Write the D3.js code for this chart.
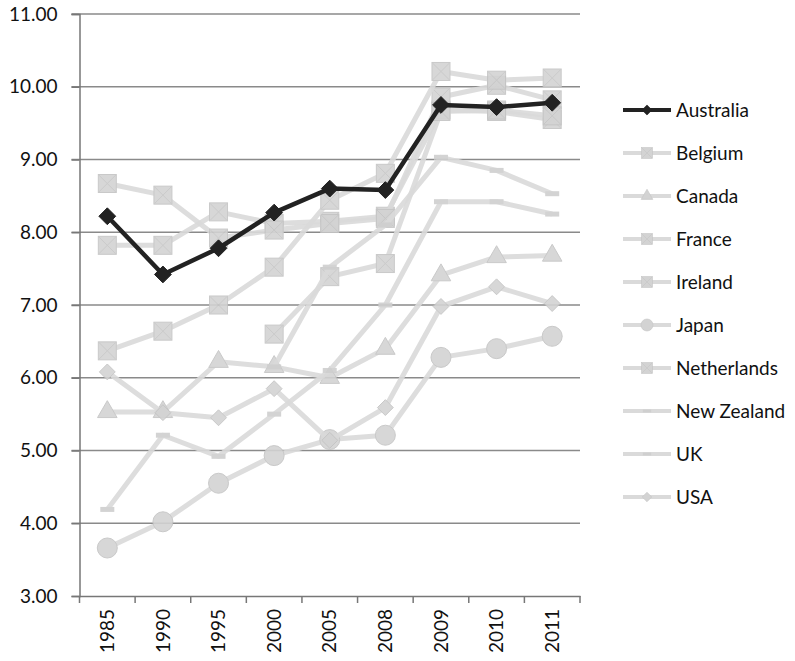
<!DOCTYPE html>
<html>
<head>
<meta charset="utf-8">
<script src="https://cdn.jsdelivr.net/npm/d3@7"></script>
<style>
  body { margin: 0; background: #fff; }
  text { font-family: Lato, "Open Sans", sans-serif; fill: #111; }
</style>
</head>
<body>
<div id="chart"></div>
<script>
// years on the x axis
const years = ["1985", "1990", "1995", "2000", "2005", "2008", "2009", "2010", "2011"];
const yTicks = [3, 4, 5, 6, 7, 8, 9, 10, 11];

// values per country
const australia   = [8.22, 7.42, 7.78, 8.27, 8.60, 8.58, 9.75, 9.72, 9.78];
const belgium     = [7.82, 7.82, 8.28, 8.12, 8.15, 8.22, 9.68, 9.66, 9.55];
const canada      = [5.53, 5.53, 6.22, 6.15, 6.00, 6.40, 7.41, 7.66, 7.68];
const france      = [8.67, 8.51, 7.92, 8.03, 8.12, 8.19, 9.86, 10.02, 9.82];
const ireland     = [6.37, 6.64, 7.00, 7.52, 8.44, 8.81, 10.21, 10.09, 10.12];
const japan       = [3.66, 4.02, 4.55, 4.93, 5.15, 5.21, 6.28, 6.40, 6.57];
const netherlands = [null, null, null, 6.60, 7.39, 7.57, 9.66, 9.68, 9.60];
const newZealand  = [null, null, null, 6.15, 7.52, 8.10, 9.03, 8.85, 8.53];
const uk          = [4.19, 5.21, 4.92, 5.50, 6.10, 7.00, 8.42, 8.42, 8.25];
const usa         = [6.08, 5.52, 5.45, 5.85, 5.14, 5.59, 6.98, 7.25, 7.02];

const series = [
  { name: "Australia", values: australia, marker: "diamond", dark: true },
  { name: "Belgium", values: belgium, marker: "square" },
  { name: "Canada", values: canada, marker: "triangle" },
  { name: "France", values: france, marker: "square" },
  { name: "Ireland", values: ireland, marker: "square" },
  { name: "Japan", values: japan, marker: "circle" },
  { name: "Netherlands", values: netherlands, marker: "square" },
  { name: "New Zealand", values: newZealand, marker: "dash" },
  { name: "UK", values: uk, marker: "dash" },
  { name: "USA", values: usa, marker: "diamond" }
];

const width = 795, height = 661;
const plotLeft = 79.5, plotRight = 580, plotTop = 14, plotBottom = 596;

const svg = d3.select("#chart").append("svg")
  .attr("width", width)
  .attr("height", height);

const x = d3.scaleBand().domain(years).range([plotLeft, plotRight]);
const y = d3.scaleLinear().domain([3, 11]).range([plotBottom, plotTop]);

// gridlines
svg.append("g")
  .selectAll("line")
  .data(yTicks.filter(d => d > 3))
  .enter().append("line")
  .attr("x1", plotLeft - 8).attr("x2", plotRight)
  .attr("y1", d => y(d)).attr("y2", d => y(d))
  .attr("stroke", "#8a8a8a").attr("stroke-width", 1.5);

// y axis
const yAxis = svg.append("g")
  .attr("transform", "translate(" + plotLeft + ",0)")
  .call(d3.axisLeft(y).tickValues(yTicks).tickFormat(d3.format(".2f")).tickSize(8).tickPadding(14));
yAxis.selectAll("text").style("font-size", "19px");

// x axis
const xAxis = svg.append("g")
  .attr("transform", "translate(0," + plotBottom + ")")
  .call(d3.axisBottom(x).tickSize(0).tickPadding(0));
xAxis.selectAll("text")
  .style("font-size", "19px")
  .attr("transform", "rotate(-90)")
  .attr("text-anchor", "end")
  .attr("dy", "0.35em")
  .attr("x", -13)
  .attr("y", 0);
// ticks between categories
xAxis.selectAll(".sep")
  .data(years.concat(["end"]))
  .enter().append("line")
  .attr("x1", (d, i) => plotLeft + i * x.bandwidth())
  .attr("x2", (d, i) => plotLeft + i * x.bandwidth())
  .attr("y1", 0).attr("y2", 7)
  .attr("stroke", "#777").attr("stroke-width", 1.5);
svg.selectAll(".domain").attr("stroke", "#777").attr("stroke-width", 1.5);
yAxis.selectAll(".tick line").attr("stroke", "#777").attr("stroke-width", 1.5);

const lightLine = "#dadada";
const lightFill = "#d3d3d3";
const lightEdge = "#c4c4c4";

function drawMarker(g, type, dark) {
  const fill = dark ? "#222" : lightFill;
  const edge = dark ? "#222" : lightEdge;
  if (type === "diamond") {
    g.append("path").attr("d", d3.symbol(d3.symbolDiamond2, dark ? 180 : 160)())
      .attr("fill", fill).attr("stroke", edge).attr("stroke-width", 1);
  } else if (type === "square") {
    g.append("rect").attr("x", -9).attr("y", -9).attr("width", 18).attr("height", 18)
      .attr("fill", fill).attr("stroke", edge).attr("stroke-width", 1);
    g.append("path").attr("d", "M-8.5,-8.5L8.5,8.5M8.5,-8.5L-8.5,8.5")
      .attr("stroke", "#c6c6c6").attr("stroke-width", 1);
  } else if (type === "triangle") {
    g.append("path").attr("d", d3.symbol(d3.symbolTriangle, 165)())
      .attr("fill", fill).attr("stroke", edge).attr("stroke-width", 1);
  } else if (type === "circle") {
    g.append("circle").attr("r", 10)
      .attr("fill", fill).attr("stroke", edge).attr("stroke-width", 1);
  } else if (type === "dash") {
    g.append("rect").attr("x", -7).attr("y", -2.5).attr("width", 14).attr("height", 5)
      .attr("fill", "#cfcfcf");
  }
}

const line = d3.line()
  .defined(d => d != null)
  .x((d, i) => x(years[i]) + x.bandwidth() / 2)
  .y(d => y(d));

// grey series first, Australia drawn on top
const drawOrder = series.slice(1).concat([series[0]]);
drawOrder.forEach(s => {
  const g = svg.append("g").attr("opacity", s.dark ? 1 : 0.9);
  g.append("path")
    .datum(s.values)
    .attr("d", line)
    .attr("fill", "none")
    .attr("stroke", s.dark ? "#222" : lightLine)
    .attr("stroke-width", s.dark ? 4.5 : 5)
    .attr("stroke-linejoin", "round");
  s.values.forEach((v, i) => {
    if (v == null) return;
    const m = g.append("g")
      .attr("transform", "translate(" + (x(years[i]) + x.bandwidth() / 2) + "," + y(v) + ")");
    drawMarker(m, s.marker, s.dark);
  });
});

// legend
const legend = svg.append("g").attr("transform", "translate(623,110)");
series.forEach((s, i) => {
  const row = legend.append("g").attr("transform", "translate(0," + i * 43 + ")");
  row.append("line")
    .attr("x1", 0).attr("x2", 48)
    .attr("stroke", s.dark ? "#222" : lightLine)
    .attr("stroke-width", 4);
  const m = row.append("g").attr("transform", "translate(24,0) scale(0.6)");
  drawMarker(m, s.marker, s.dark);
  row.append("text")
    .attr("x", 53).attr("dy", "0.35em")
    .style("font-size", "19px")
    .text(s.name);
});
</script>
</body>
</html>
